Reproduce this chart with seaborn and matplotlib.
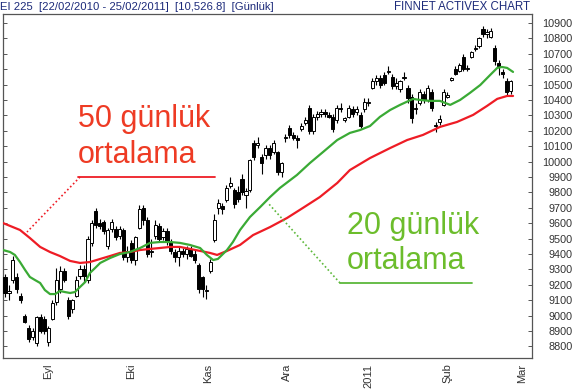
import numpy as np
import pandas as pd
import matplotlib
matplotlib.use("Agg")
import matplotlib.pyplot as plt
from matplotlib.lines import Line2D
import seaborn as sns

# ---------------- data ----------------
opens = [9250, 9150, 9230, 9250, 9130, 9000, 8920, 8860, 8820, 8990,
         8980, 8830, 8980, 9090, 9170, 9290, 9100, 9040, 9130, 9260,
         9300, 9230, 9470, 9680, 9600, 9610, 9450, 9560, 9560, 9520,
         9555, 9380, 9470, 9360, 9570, 9700, 9620, 9410, 9520, 9580,
         9510, 9550, 9480, 9410, 9380, 9420, 9400, 9430, 9400, 9330,
         9250, 9160, 9290, 9490, 9700, 9710, 9750, 9840, 9815, 9800,
         9890, 9780, 9815, 10120, 10110, 10030, 10040, 10090, 10060, 10060,
         9930, 10150, 10220, 10170, 10150, 10210, 10250, 10350, 10200, 10290,
         10310, 10320, 10300, 10290, 10270, 10350, 10270, 10290, 10340, 10320,
         10300, 10340, 10380, 10480, 10520, 10540, 10560, 10580, 10550, 10490,
         10470, 10540, 10480, 10420, 10340, 10380, 10440, 10400, 10450, 10230,
         10260, 10370, 10420, 10530, 10600, 10590, 10680, 10600, 10680, 10730,
         10750, 10860, 10830, 10810, 10740, 10640, 10580, 10520, 10460]
highs = [9270, 9200, 9390, 9280, 9150, 9010, 8940, 8920, 9000, 9010,
         9000, 8930, 9100, 9310, 9320, 9310, 9120, 9110, 9260, 9330,
         9330, 9520, 9620, 9700, 9630, 9620, 9570, 9625, 9580, 9580,
         9570, 9450, 9490, 9520, 9720, 9720, 9640, 9500, 9620, 9600,
         9570, 9570, 9500, 9430, 9450, 9440, 9450, 9450, 9430, 9340,
         9260, 9200, 9370, 9660, 9760, 9730, 9850, 9900, 9830, 9840,
         9920, 9830, 10020, 10140, 10160, 10050, 10110, 10110, 10140, 10070,
         10000, 10180, 10240, 10190, 10170, 10250, 10290, 10370, 10310, 10330,
         10340, 10340, 10320, 10310, 10370, 10380, 10290, 10370, 10360, 10360,
         10320, 10410, 10410, 10540, 10560, 10560, 10580, 10620, 10570, 10540,
         10530, 10580, 10500, 10440, 10380, 10470, 10460, 10500, 10470, 10260,
         10300, 10470, 10450, 10550, 10620, 10640, 10700, 10630, 10720, 10760,
         10810, 10880, 10860, 10870, 10760, 10660, 10600, 10540, 10530]
lows = [9120, 9100, 9210, 9150, 9080, 8950, 8830, 8840, 8800, 8890,
        8880, 8800, 8970, 9070, 9150, 9220, 8980, 9020, 9120, 9240,
        9220, 9210, 9450, 9570, 9560, 9530, 9430, 9540, 9490, 9500,
        9360, 9350, 9340, 9330, 9560, 9590, 9380, 9380, 9500, 9480,
        9490, 9460, 9400, 9350, 9320, 9380, 9370, 9380, 9340, 9150,
        9120, 9110, 9280, 9480, 9660, 9660, 9740, 9830, 9700, 9740,
        9780, 9700, 9800, 10010, 10090, 9920, 10020, 10020, 10050, 9910,
        9900, 10130, 10150, 10140, 10090, 10200, 10240, 10180, 10180, 10270,
        10290, 10290, 10280, 10190, 10250, 10320, 10260, 10280, 10290, 10300,
        10220, 10320, 10360, 10470, 10500, 10480, 10500, 10570, 10470, 10470,
        10450, 10530, 10380, 10250, 10310, 10370, 10380, 10390, 10330, 10190,
        10240, 10360, 10410, 10520, 10560, 10580, 10590, 10590, 10670, 10720,
        10740, 10810, 10800, 10800, 10630, 10560, 10540, 10430, 10440]
closes = [9150, 9160, 9360, 9170, 9100, 8960, 8850, 8900, 8990, 8900,
          8900, 8920, 9080, 9230, 9290, 9230, 9000, 9100, 9230, 9300,
          9260, 9500, 9600, 9590, 9580, 9550, 9555, 9610, 9510, 9560,
          9380, 9420, 9360, 9510, 9690, 9620, 9400, 9420, 9590, 9500,
          9550, 9480, 9420, 9380, 9420, 9400, 9430, 9390, 9360, 9170,
          9170, 9165, 9350, 9620, 9730, 9690, 9830, 9860, 9725, 9760,
          9800, 9810, 10010, 10030, 10120, 9990, 10090, 10040, 10120, 9930,
          9990, 10160, 10170, 10150, 10140, 10230, 10270, 10200, 10290, 10310,
          10320, 10310, 10290, 10210, 10350, 10340, 10280, 10350, 10310, 10340,
          10230, 10390, 10390, 10520, 10540, 10500, 10510, 10590, 10490, 10510,
          10520, 10550, 10410, 10280, 10350, 10450, 10400, 10480, 10350, 10240,
          10275, 10450, 10430, 10540, 10570, 10630, 10600, 10610, 10710, 10740,
          10800, 10830, 10840, 10850, 10650, 10620, 10570, 10450, 10520]

# 20-day moving average (green), read at sample days
ma20_day = [-0.5, 1.3, 2.5, 3.8, 5.1, 6.3, 7.6, 8.9, 10.1, 11.4, 12.7, 13.9, 15.2,
            16.5, 17.7, 19.0, 20.3, 21.5, 22.8, 24.1, 26.6, 29.1, 31.6, 34.2,
            36.7, 39.2, 41.8, 44.3, 46.8, 49.4, 51.1, 52.7, 53.9, 56.2, 57.7,
            59.5, 62.0, 64.6, 67.1, 69.6, 73.9, 77.2, 80.5, 84.1, 87.3, 89.9,
            92.4, 94.9, 97.5, 100.0, 103.3, 105.1, 107.6, 110.1, 112.7, 115.2,
            117.7, 120.3, 122.8, 124.6, 125.8, 127.1, 128.6]
ma20_val = [9426, 9413, 9394, 9348, 9296, 9251, 9231, 9212, 9166, 9140, 9140, 9160,
            9153, 9147, 9153, 9186, 9218, 9277, 9309, 9342, 9374, 9400, 9413,
            9439, 9472, 9478, 9478, 9472, 9459, 9439, 9394, 9361, 9368, 9426,
            9478, 9556, 9640, 9705, 9770, 9829, 9913, 9991, 10062, 10140, 10186,
            10205, 10231, 10290, 10335, 10368, 10407, 10400, 10394, 10394, 10368,
            10400, 10446, 10497, 10562, 10608, 10614, 10608, 10582]

# 50-day moving average (red), read at sample days
ma50_day = [-0.5, 3.8, 6.3, 8.9, 11.4, 13.9, 16.5, 19.0, 21.5, 24.1, 26.6, 29.1,
            31.6, 34.2, 36.7, 39.2, 41.8, 44.3, 49.4, 51.9, 53.7, 56.2, 59.5,
            62.8, 67.1, 71.4, 75.4, 79.7, 84.1, 87.3, 92.4, 97.5, 101.8, 105.8,
            110.1, 114.4, 118.5, 122.0, 124.6, 127.1, 128.6]
ma50_val = [9601, 9556, 9504, 9446, 9413, 9387, 9355, 9342, 9348, 9368, 9387, 9407,
            9413, 9426, 9433, 9439, 9446, 9446, 9420, 9407, 9394, 9420, 9459,
            9523, 9575, 9634, 9699, 9770, 9861, 9945, 10023, 10088, 10140, 10173,
            10225, 10257, 10303, 10361, 10407, 10426, 10426]

month_pos = [11, 32, 51.5, 71.5, 92, 112, 131]
month_labels = ["Eyl", "Eki", "Kas", "Ara", "2011", "Şub", "Mar"]
y_ticks = list(range(8800, 11000, 100))

title_left = "EI 225  [22/02/2010 - 25/02/2011]  [10,526.8]  [Günlük]"
title_right = "FİNNET ACTIVEX CHART"
label50 = ["50 günlük", "ortalama"]
label20 = ["20 günlük", "ortalama"]

# ---------------- figure ----------------
sns.set_style("white")
plt.rcParams['font.family'] = ['Liberation Sans', 'DejaVu Sans']

W, H = 575, 391
fig = plt.figure(figsize=(W / 100, H / 100), dpi=100)
ax = fig.add_axes([3 / W, 1 - 358 / H, (532 - 3) / W, (358 - 14) / H])

df = pd.DataFrame(dict(day=np.arange(len(closes)), open=opens, high=highs,
                       low=lows, close=closes))
up = df["close"] >= df["open"]
ax.vlines(df["day"], df["low"], df["high"], color="black", lw=0.8, zorder=2)
body = (df["close"] - df["open"]).abs().clip(lower=3)
ax.bar(df["day"], body, bottom=np.minimum(df["open"], df["close"]), width=0.8,
       color=np.where(up, "white", "black"), edgecolor="black", linewidth=0.7,
       zorder=3)

ma20 = pd.DataFrame(dict(day=ma20_day, value=ma20_val))
ma50 = pd.DataFrame(dict(day=ma50_day, value=ma50_val))
sns.lineplot(data=ma50, x="day", y="value", color="#ee1c25", lw=1.6, ax=ax,
             sort=False, estimator=None, zorder=4)
sns.lineplot(data=ma20, x="day", y="value", color="#3aaa35", lw=1.6, ax=ax,
             sort=False, estimator=None, zorder=5)

ax.set_xlim(-0.5, 133.4)
ax.set_ylim(8725, 10958)
ax.set_xlabel("")
ax.set_ylabel("")

ax.yaxis.tick_right()
ax.set_yticks(y_ticks)
ax.set_yticklabels([str(v) for v in y_ticks])
ax.tick_params(axis="y", which="both", left=True, right=True, labelleft=False,
               labelright=True, direction="in", length=3, width=0.7,
               color="#555555", labelsize=7.8, labelcolor="#333333", pad=29)
for lab in ax.get_yticklabels():
    lab.set_horizontalalignment("right")

ax.set_xticks(month_pos)
ax.set_xticklabels(month_labels, rotation=90)
ax.tick_params(axis="x", length=0, pad=4, labelsize=8, labelcolor="#333333")

for s in ax.spines.values():
    s.set_color("#555555")
    s.set_linewidth(0.9)

# ---------------- header text ----------------
fig.text(0 / W, 1 - 7 / H, title_left, fontsize=8.1, color="#1c2a7a",
         va="center", ha="left")
fig.text(530 / W, 1 - 7 / H, title_right, fontsize=8.3, color="#1c2a7a",
         va="center", ha="right")

# ---------------- annotations ----------------
def fp(x, y):
    return x / W, 1 - y / H

red_txt = "#ee3b24"
green_txt = "#6cbd2c"
fig.text(*fp(78, 127), label50[0], fontsize=22, color=red_txt, va="baseline")
fig.text(*fp(78, 163), label50[1], fontsize=22, color=red_txt, va="baseline")
fig.text(*fp(347, 234), label20[0], fontsize=22, color=green_txt, va="baseline")
fig.text(*fp(347, 269), label20[1], fontsize=22, color=green_txt, va="baseline")

def seg(p0, p1, color, ls, lw):
    (x0, y0), (x1, y1) = fp(*p0), fp(*p1)
    fig.add_artist(Line2D([x0, x1], [y0, y1], color=color, ls=ls, lw=lw,
                          transform=fig.transFigure))

seg((78, 177), (215, 177), "#ee1c25", "-", 1.3)
seg((80, 177), (27, 232), "#ee1c25", (0, (1, 1.5)), 1.2)
seg((340, 283), (472, 283), "#5cb83a", "-", 1.3)
seg((340, 283), (268, 203), "#5cb83a", (0, (1, 1.5)), 1.2)

fig.savefig("out.png", dpi=100)
